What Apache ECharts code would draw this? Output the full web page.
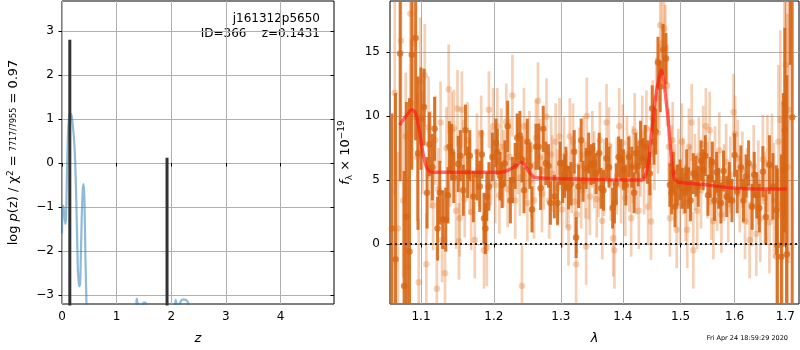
<!DOCTYPE html>
<html>
<head>
    <meta charset="UTF-8">
    <title>j161312p5650 redshift fit</title>
    <script src="https://cdn.jsdelivr.net/npm/echarts@6/dist/echarts.min.js"></script>
    <style>
        html, body { margin: 0; padding: 0; background: #fff; }
    </style>
</head>
<body>
<div id="chart" style="width:800px; height:350px;"></div>
<script>
    // left panel: log p(z)
    var pzZ   = [0.0, 0.01, 0.025, 0.04, 0.06, 0.075, 0.09, 0.11, 0.13, 0.15, 0.17, 0.19, 0.21, 0.23, 0.25, 0.27, 0.29, 0.30, 0.315, 0.33, 0.34, 0.36, 0.38, 0.395, 0.41, 0.43, 0.45, 0.47, 1.30, 1.37, 1.40, 1.46, 1.49, 1.53, 1.56, 1.60, 2.00, 2.05, 2.08, 2.12, 2.17, 2.20, 2.25, 2.30, 2.33, 2.40, 4.98];
    var pzLog = [-1.6, -1.0, -0.97, -1.15, -1.38, -1.2, -0.3, 0.7, 1.05, 1.12, 1.1, 0.95, 0.7, 0.35, -0.3, -1.3, -2.4, -2.6, -2.8, -2.75, -2.4, -1.3, -0.6, -0.48, -0.8, -2.2, -3.3, -4.5, -4.5, -3.08, -3.3, -3.5, -3.17, -3.17, -3.4, -4.5, -4.5, -3.5, -3.1, -3.3, -3.15, -3.1, -3.1, -3.15, -3.3, -4.5, -4.5];
    var spikeZ   = [0.1431, 1.923];
    var spikeTop = [2.8, 0.12];
    var zTicks   = [0, 1, 2, 3, 4];
    var pzTicks  = [-3, -2, -1, 0, 1, 2, 3];

    // right panel: spectrum [lambda (um), flux, error]
    var darkPts = [
        [1.0625, 1.2, 9], [1.067, -1.2, 13], [1.073, 14.9, 10], [1.078, -3.3, 9], [1.081, 2.1, 9], [1.085, -0.6, 12],
        [1.088, 14.8, 9], [1.093, 16.1, 8], [1.096, 7.1, 6], [1.100, 9.8, 4], [1.104, 10.7, 3], [1.108, 4.0, 2.8],
        [1.111, 7.8, 2.5], [1.115, 6.0, 2.6], [1.118, 9.0, 2.5], [1.122, 1.2, 2.5], [1.125, 4.0, 2.5], [1.129, 1.9, 2.3],
        [1.133, 1.9, 2.5], [1.136, 3.8, 2.2], [1.138, 7.6, 2.0], [1.141, 7.2, 2.2], [1.144, 5.2, 2.0], [1.150, 6.25, 2.2],
        [1.153, 6.9, 2.0], [1.157, 4.2, 2.0], [1.160, 8.9, 2.0], [1.163, 5.6, 2.0], [1.166, 6.9, 2.0], [1.171, 3.7, 2.0],
        [1.176, 5.4, 2.0], [1.180, 4.5, 2.0], [1.183, 7.0, 1.9], [1.186, 2.0, 2.0], [1.188, 1.2, 2.0], [1.190, 3.7, 1.9],
        [1.193, 4.5, 1.9], [1.198, 6.8, 1.9], [1.203, 7.9, 1.9], [1.205, 7.2, 1.8], [1.209, 5.3, 1.9], [1.212, 4.6, 1.8],
        [1.216, 6.3, 1.8], [1.220, 9.2, 2.0], [1.224, 3.4, 1.8], [1.227, 5.0, 1.8], [1.231, 6.1, 1.8], [1.234, 8.3, 1.9],
        [1.238, 8.5, 1.9], [1.241, 6.6, 1.8], [1.244, 4.2, 1.8], [1.249, 8.0, 1.8], [1.253, 6.1, 1.8], [1.256, 2.7, 1.8],
        [1.262, 7.6, 1.8], [1.266, 7.6, 1.8], [1.269, 4.35, 1.7], [1.273, 9.0, 1.8], [1.277, 6.3, 1.7], [1.281, 6.1, 1.7],
        [1.284, 3.2, 1.7], [1.290, 3.7, 1.7], [1.295, 3.2, 1.7], [1.299, 6.3, 1.7], [1.303, 4.9, 1.7], [1.306, 5.3, 1.7],
        [1.308, 5.9, 1.7], [1.312, 4.4, 1.7], [1.316, 4.7, 1.7], [1.321, 7.2, 1.7], [1.324, 0.5, 1.6], [1.328, 4.5, 1.7],
        [1.332, 8.1, 1.7], [1.335, 4.9, 1.6], [1.340, 5.9, 1.6], [1.344, 7.1, 1.6], [1.348, 6.2, 1.6], [1.352, 6.3, 1.6],
        [1.356, 5.5, 1.6], [1.361, 7.1, 1.6], [1.364, 4.35, 1.6], [1.368, 4.2, 1.6], [1.373, 6.7, 1.6], [1.377, 6.0, 1.6],
        [1.383, 2.8, 1.6], [1.386, 3.2, 1.6], [1.389, 4.7, 1.6], [1.393, 6.8, 1.6], [1.397, 6.6, 1.6], [1.401, 5.8, 1.6],
        [1.405, 4.6, 1.6], [1.410, 6.8, 1.6], [1.415, 6.0, 1.6], [1.419, 4.0, 1.6], [1.422, 7.1, 1.6], [1.426, 6.1, 1.6],
        [1.430, 7.9, 1.7], [1.434, 6.7, 1.6], [1.438, 7.6, 1.7], [1.442, 6.4, 1.7], [1.446, 5.5, 1.7], [1.450, 10.6, 1.8],
        [1.453, 8.0, 1.8], [1.456, 8.8, 1.8], [1.460, 14.2, 2.0], [1.464, 12.3, 2.0], [1.469, 15.2, 2.0], [1.474, 14.5, 2.0],
        [1.481, 4.6, 1.7], [1.484, 4.0, 1.7], [1.487, 5.6, 1.6], [1.490, 2.9, 1.6], [1.494, 4.6, 1.6], [1.499, 5.0, 1.6],
        [1.503, 4.35, 1.6], [1.508, 4.0, 1.6], [1.511, 5.8, 1.6], [1.514, 4.35, 1.6], [1.518, 3.4, 1.6], [1.523, 5.5, 1.6],
        [1.528, 5.3, 1.6], [1.532, 4.5, 1.6], [1.537, 6.5, 1.6], [1.541, 5.8, 1.6], [1.545, 6.9, 1.6], [1.550, 3.8, 1.6],
        [1.554, 5.2, 1.6], [1.558, 6.4, 1.6], [1.562, 3.4, 1.6], [1.566, 5.6, 1.6], [1.570, 4.35, 1.6], [1.574, 3.2, 1.6],
        [1.579, 5.7, 1.6], [1.585, 3.7, 1.6], [1.590, 4.8, 1.6], [1.595, 3.4, 1.7], [1.600, 6.95, 1.7], [1.605, 4.1, 1.7],
        [1.612, 6.0, 1.7], [1.617, 3.4, 1.7], [1.622, 5.3, 1.7], [1.627, 6.3, 1.8], [1.634, 2.9, 1.8], [1.638, 5.4, 1.8],
        [1.643, 3.8, 1.8], [1.648, 2.8, 1.9], [1.655, 5.65, 2.0], [1.661, 2.1, 2.1], [1.668, 6.2, 2.3], [1.675, 4.5, 2.6],
        [1.682, 2.65, 3.5], [1.684, -0.1, 6], [1.692, -1.0, 8], [1.696, 5.8, 6], [1.699, 8.9, 8], [1.703, -0.8, 14],
        [1.710, 19.5, 5.5], [1.714, 9.9, 16]
    ];
    var lightPts = [
        [1.066, 11.8, 8], [1.070, 1.2, 6], [1.074, 15.9, 6], [1.077, 3.4, 6], [1.080, 8.4, 5], [1.083, -1.8, 7],
        [1.086, 18.0, 7], [1.087, 11.0, 5], [1.090, 15.7, 6], [1.095, 6.8, 5], [1.097, -3.0, 5], [1.099, 12.7, 5],
        [1.102, 7.9, 4], [1.105, 13.2, 4], [1.107, -1.6, 4], [1.110, 9.1, 4], [1.113, 6.6, 3.8], [1.116, 3.0, 3.5],
        [1.119, 8.1, 3.5], [1.121, -3.5, 3.5], [1.123, 4.3, 3.2], [1.126, 9.5, 3.2], [1.128, 0.3, 3.3], [1.132, -2.3, 3.5],
        [1.134, 7.5, 3.2], [1.137, 12.1, 3.5], [1.139, 5.9, 3.0], [1.141, 8.9, 3.0], [1.144, 9.05, 3.0], [1.147, 2.6, 3.0],
        [1.149, 10.6, 3.0], [1.151, 0.2, 3.0], [1.152, 2.0, 3.0], [1.155, 10.5, 3.0], [1.157, 6.7, 3.0], [1.159, 3.5, 3.0],
        [1.163, 8.1, 3.0], [1.166, 5.3, 3.0], [1.168, 2.5, 3.0], [1.173, 0.3, 3.0], [1.176, 7.2, 3.0], [1.179, 5.9, 3.0],
        [1.182, 8.6, 3.0], [1.186, -0.5, 3.0], [1.190, -0.3, 3.0], [1.193, 10.5, 3.0], [1.196, 6.0, 3.0], [1.199, 9.2, 3.0],
        [1.202, 4.6, 3.0], [1.205, 9.2, 3.0], [1.208, 3.8, 3.0], [1.211, 7.6, 3.0], [1.214, 5.9, 3.0], [1.218, 9.55, 3.0],
        [1.220, 4.3, 3.0], [1.223, 6.8, 3.0], [1.227, 11.6, 3.2], [1.231, 3.4, 3.0], [1.235, 6.9, 3.0], [1.238, 5.2, 3.0],
        [1.241, -3.3, 3.2], [1.244, 9.2, 3.0], [1.247, 6.5, 3.0], [1.249, 3.2, 3.0], [1.252, 7.4, 3.0], [1.255, 5.0, 3.0],
        [1.259, 3.4, 3.0], [1.262, 8.3, 3.0], [1.265, 11.2, 3.0], [1.268, 6.8, 3.0], [1.271, 3.9, 3.0], [1.274, 5.7, 3.0],
        [1.278, 9.95, 3.0], [1.282, 3.4, 3.0], [1.285, 7.0, 3.0], [1.287, 5.5, 3.0], [1.292, 8.0, 3.0], [1.295, 4.4, 3.0],
        [1.298, 8.4, 3.0], [1.302, 2.7, 3.0], [1.305, 6.9, 3.0], [1.309, 4.3, 3.0], [1.312, 1.3, 3.0], [1.314, 8.4, 3.0],
        [1.317, 5.4, 3.0], [1.319, 8.0, 3.0], [1.322, 3.3, 3.0], [1.324, -1.6, 3.0], [1.325, 2.3, 3.0], [1.329, 6.1, 3.0],
        [1.332, 4.2, 3.0], [1.336, 7.0, 3.0], [1.339, 5.0, 3.0], [1.340, -0.2, 3.0], [1.341, 10.0, 3.0], [1.344, 4.9, 3.0],
        [1.346, 3.7, 3.0], [1.350, 7.4, 3.0], [1.353, 5.8, 3.0], [1.357, 3.5, 3.0], [1.360, 5.1, 3.0], [1.362, 8.1, 3.0],
        [1.366, 1.8, 3.0], [1.369, 5.2, 3.0], [1.373, 9.5, 3.0], [1.377, 7.7, 3.0], [1.380, 4.8, 3.0], [1.384, 0.45, 3.0],
        [1.386, -0.5, 3.0], [1.390, 5.3, 3.0], [1.394, 9.2, 3.0], [1.397, 4.6, 3.0], [1.400, 7.9, 3.0], [1.404, 3.6, 3.0],
        [1.407, 7.0, 3.0], [1.411, 5.5, 3.0], [1.414, 2.0, 3.0], [1.417, 6.2, 3.0], [1.420, 8.8, 3.0], [1.423, 5.3, 3.0],
        [1.427, 2.6, 3.0], [1.430, 6.7, 3.0], [1.433, 8.6, 3.0], [1.436, 5.3, 3.0], [1.440, 9.0, 3.0], [1.443, 2.9, 3.0],
        [1.446, 6.1, 3.0], [1.448, 1.75, 3.0], [1.451, 9.8, 3.0], [1.454, 7.2, 3.0], [1.457, 11.4, 3.2], [1.460, 8.7, 3.2],
        [1.462, 12.3, 3.3], [1.464, 17.1, 3.5], [1.467, 15.7, 3.4], [1.471, 16.85, 3.5], [1.473, 15.3, 3.4], [1.476, 12.4, 3.2],
        [1.479, 7.6, 3.0], [1.481, 2.0, 3.0], [1.484, 6.3, 3.0], [1.486, 8.1, 3.0], [1.490, 4.8, 3.0], [1.493, 1.1, 3.0],
        [1.496, 6.0, 3.0], [1.499, 3.0, 3.0], [1.502, 8.0, 3.0], [1.505, 5.3, 3.0], [1.509, 3.2, 3.0], [1.512, 1.1, 3.0],
        [1.515, 7.6, 3.0], [1.517, 4.7, 3.0], [1.520, 9.5, 3.0], [1.523, -0.5, 3.0], [1.526, 5.6, 3.0], [1.530, 2.6, 3.0],
        [1.533, 6.9, 3.0], [1.537, 4.2, 3.0], [1.541, 7.8, 3.0], [1.546, 9.2, 3.0], [1.549, 5.0, 3.0], [1.553, 8.9, 3.0],
        [1.556, 3.3, 3.0], [1.560, 1.8, 3.0], [1.563, 6.2, 3.0], [1.567, 4.0, 3.0], [1.571, 7.3, 3.0], [1.575, 2.3, 3.0],
        [1.580, 4.8, 3.0], [1.584, 6.4, 3.0], [1.588, 3.1, 3.0], [1.592, 5.4, 3.0], [1.598, 10.3, 3.0], [1.601, 8.6, 3.0],
        [1.606, 6.7, 3.0], [1.610, 3.9, 3.0], [1.615, 5.8, 3.0], [1.620, 1.8, 3.0], [1.624, 4.5, 3.0], [1.629, 0.3, 3.0],
        [1.633, 3.0, 3.2], [1.637, 6.1, 3.2], [1.642, 0.8, 3.3], [1.646, 4.8, 3.3], [1.650, 2.0, 3.4], [1.655, 6.6, 3.5],
        [1.659, 3.6, 3.6], [1.664, 6.3, 3.8], [1.668, 1.7, 4.0], [1.673, 6.0, 4.2], [1.677, 3.4, 4.5], [1.682, -1.0, 5],
        [1.686, 8.0, 6], [1.690, 9.7, 7], [1.694, 3.1, 8], [1.698, 11.0, 9], [1.701, 14.0, 10], [1.704, 6.0, 12],
        [1.707, 10.5, 12]
    ];
    var modelLam  = [1.072, 1.078, 1.083, 1.088, 1.093, 1.098, 1.103, 1.108, 1.115, 1.13, 1.16, 1.19, 1.21, 1.222, 1.232, 1.239, 1.245, 1.252, 1.260, 1.27, 1.30, 1.35, 1.40, 1.425, 1.432, 1.438, 1.444, 1.449, 1.456, 1.462, 1.466, 1.470, 1.474, 1.478, 1.484, 1.489, 1.493, 1.50, 1.55, 1.60, 1.65, 1.703];
    var modelFlux = [9.3, 9.8, 10.2, 10.5, 10.2, 8.8, 7.0, 5.9, 5.6, 5.6, 5.6, 5.6, 5.6, 5.8, 6.1, 6.4, 6.2, 5.6, 5.2, 5.15, 5.1, 5.05, 5.0, 5.0, 5.0, 5.3, 6.5, 8.7, 11.5, 13.0, 13.6, 12.8, 11.3, 9.7, 6.6, 5.1, 4.9, 4.8, 4.6, 4.35, 4.3, 4.3];
    var lamTicks  = [1.1, 1.2, 1.3, 1.4, 1.5, 1.6, 1.7];
    var fluxTicks = [0, 5, 10, 15];

    var FONT = 'DejaVu Sans';
    var ln = Math.log;
    function minus(v) { return v < 0 ? '\u2212' + Math.abs(v) : String(v); }

    // vertical error bar, clipped to the plot box
    function errBar(color, width) {
        return function (params, api) {
            var x = api.value(0), y = api.value(1), e = api.value(2);
            var p1 = api.coord([x, y - e]);
            var p2 = api.coord([x, y + e]);
            var cs = params.coordSys;
            var top = cs.y, bot = cs.y + cs.height;
            var y1 = Math.max(top, Math.min(bot, p1[1]));
            var y2 = Math.max(top, Math.min(bot, p2[1]));
            return {
                type: 'line',
                shape: {x1: p1[0], y1: y1, x2: p2[0], y2: y2},
                style: {stroke: color, lineWidth: width}
            };
        };
    }

    var axisCommon = {
        axisLine: {show: false},
        axisTick: {show: true, inside: false, length: 3.5, lineStyle: {color: '#000', width: 1}},
        splitLine: {show: true, lineStyle: {color: '#b0b0b0', width: 1}}
    };

    var lightData = lightPts.map(function (p) { return [ln(p[0]), p[1], p[2]]; });
    var darkData = darkPts.map(function (p) { return [ln(p[0]), p[1], p[2]]; });

    var series = [
        {
            type: 'line', xAxisIndex: 0, yAxisIndex: 0, symbol: 'none', smooth: 0.3,
            data: pzZ.map(function (z, i) { return [z, pzLog[i]]; }),
            lineStyle: {color: 'rgba(31,119,180,0.5)', width: 2.2}
        }
    ];
    spikeZ.forEach(function (z, i) {
        series.push({
            type: 'line', xAxisIndex: 0, yAxisIndex: 0, symbol: 'none',
            data: [[z, -3.4], [z, spikeTop[i]]],
            lineStyle: {color: '#333', width: 3, cap: 'butt'}
        });
    });
    series.push(
        {
            type: 'custom', xAxisIndex: 1, yAxisIndex: 2,
            renderItem: errBar('rgba(228,118,38,0.34)', 2.7),
            encode: {x: 0, y: 1}, data: lightData, z: 2
        },
        {
            type: 'scatter', xAxisIndex: 1, yAxisIndex: 2, symbolSize: 6.5,
            itemStyle: {color: 'rgba(228,118,38,0.4)'},
            data: lightData.map(function (d) { return [d[0], d[1]]; }), z: 2
        },
        {
            type: 'custom', xAxisIndex: 1, yAxisIndex: 2,
            renderItem: errBar('rgba(214,100,18,0.88)', 3),
            encode: {x: 0, y: 1}, data: darkData, z: 3
        },
        {
            type: 'scatter', xAxisIndex: 1, yAxisIndex: 2, symbolSize: 6.5,
            itemStyle: {color: 'rgba(214,100,18,0.92)'},
            data: darkData.map(function (d) { return [d[0], d[1]]; }), z: 3
        },
        {
            type: 'line', xAxisIndex: 1, yAxisIndex: 2, symbol: 'none', smooth: 0.3, z: 4,
            data: modelLam.map(function (l, i) { return [ln(l), modelFlux[i]]; }),
            lineStyle: {color: 'rgba(255,20,20,0.62)', width: 3.4},
            markLine: {
                silent: true, symbol: 'none', label: {show: false},
                lineStyle: {color: '#222', type: [2, 3], width: 2},
                data: [{yAxis: 0}]
            }
        }
    );

    var option = {
        backgroundColor: '#fff',
        animation: false,
        textStyle: {fontFamily: FONT},
        grid: [
            {left: 62, top: 1, width: 272, height: 303, show: true, borderColor: '#000', borderWidth: 1, backgroundColor: 'transparent'},
            {left: 390, top: 1, width: 409, height: 303, show: true, borderColor: '#000', borderWidth: 1, backgroundColor: 'transparent'}
        ],
        xAxis: [
            Object.assign({}, axisCommon, {
                type: 'value', gridIndex: 0, min: 0, max: 4.98,
                axisTick: Object.assign({}, axisCommon.axisTick, {customValues: zTicks}),
                axisLabel: {customValues: zTicks, fontSize: 12, color: '#000', margin: 7, fontFamily: FONT},
                name: 'z', nameLocation: 'middle', nameGap: 28,
                nameTextStyle: {fontSize: 13, fontStyle: 'italic', color: '#000', fontFamily: FONT}
            }),
            Object.assign({}, axisCommon, {
                type: 'value', gridIndex: 1, min: ln(1.06), max: ln(1.728),
                axisTick: Object.assign({}, axisCommon.axisTick, {customValues: lamTicks.map(ln)}),
                axisLabel: {
                    customValues: lamTicks.map(ln), fontSize: 12, color: '#000', margin: 7, fontFamily: FONT,
                    formatter: function (v) { return Math.exp(v).toFixed(1); }
                },
                name: 'λ', nameLocation: 'middle', nameGap: 28,
                nameTextStyle: {fontSize: 13, fontStyle: 'italic', color: '#000', fontFamily: FONT}
            })
        ],
        yAxis: [
            Object.assign({}, axisCommon, {
                type: 'value', gridIndex: 0, min: -3.2, max: 3.68,
                axisTick: Object.assign({}, axisCommon.axisTick, {customValues: pzTicks}),
                axisLabel: {customValues: pzTicks, fontSize: 12, color: '#000', margin: 8, fontFamily: FONT, formatter: minus},
                name: '{n|log }{i|p}{n|(z) / χ}{sup|2}{n| = }{fr|7717/7955}{n| = 0.97}',
                nameLocation: 'middle', nameRotate: 90, nameGap: 40,
                nameTextStyle: {
                    color: '#000', fontFamily: FONT,
                    rich: {
                        n: {fontSize: 13, fontFamily: FONT, color: '#000', lineHeight: 16},
                        i: {fontSize: 13, fontFamily: FONT, fontStyle: 'italic', color: '#000', lineHeight: 16},
                        sup: {fontSize: 9, fontFamily: FONT, color: '#000', verticalAlign: 'top', lineHeight: 16},
                        fr: {fontSize: 8, fontFamily: FONT, color: '#000', lineHeight: 16}
                    }
                }
            }),
            {
                type: 'value', gridIndex: 0, position: 'right', min: -3.2, max: 3.68,
                axisLine: {show: false},
                axisTick: {show: true, inside: true, length: 3.5, customValues: pzTicks, lineStyle: {color: '#000'}},
                axisLabel: {show: false},
                splitLine: {show: false}
            },
            Object.assign({}, axisCommon, {
                type: 'value', gridIndex: 1, min: -4.7, max: 19,
                axisTick: Object.assign({}, axisCommon.axisTick, {customValues: fluxTicks}),
                axisLabel: {customValues: fluxTicks, fontSize: 12, color: '#000', margin: 10, fontFamily: FONT},
                name: '{i|f}{sub|λ}{n| × 10}{sup|−19}',
                nameLocation: 'middle', nameRotate: 90, nameGap: 36,
                nameTextStyle: {
                    color: '#000', fontFamily: FONT,
                    rich: {
                        n: {fontSize: 13, fontFamily: FONT, color: '#000', lineHeight: 17},
                        i: {fontSize: 13, fontFamily: FONT, fontStyle: 'italic', color: '#000', lineHeight: 17},
                        sub: {fontSize: 9, fontFamily: FONT, color: '#000', verticalAlign: 'bottom', lineHeight: 17},
                        sup: {fontSize: 9, fontFamily: FONT, color: '#000', verticalAlign: 'top', lineHeight: 17}
                    }
                }
            })
        ],
        graphic: [
            {type: 'text', right: 480, top: 13, style: {text: 'j161312p5650', font: '12px "DejaVu Sans"', fill: '#000'}},
            {type: 'text', right: 480, top: 28, style: {text: 'ID=366    z=0.1431', font: '12px "DejaVu Sans"', fill: '#000'}},
            {type: 'text', right: 12, top: 335, style: {text: 'Fri Apr 24 18:59:29 2020', font: '6.5px "DejaVu Sans"', fill: '#000'}}
        ],
        series: series
    };

    var chart = echarts.init(document.getElementById('chart'), null, {renderer: 'canvas'});
    chart.setOption(option);
</script>
</body>
</html>
